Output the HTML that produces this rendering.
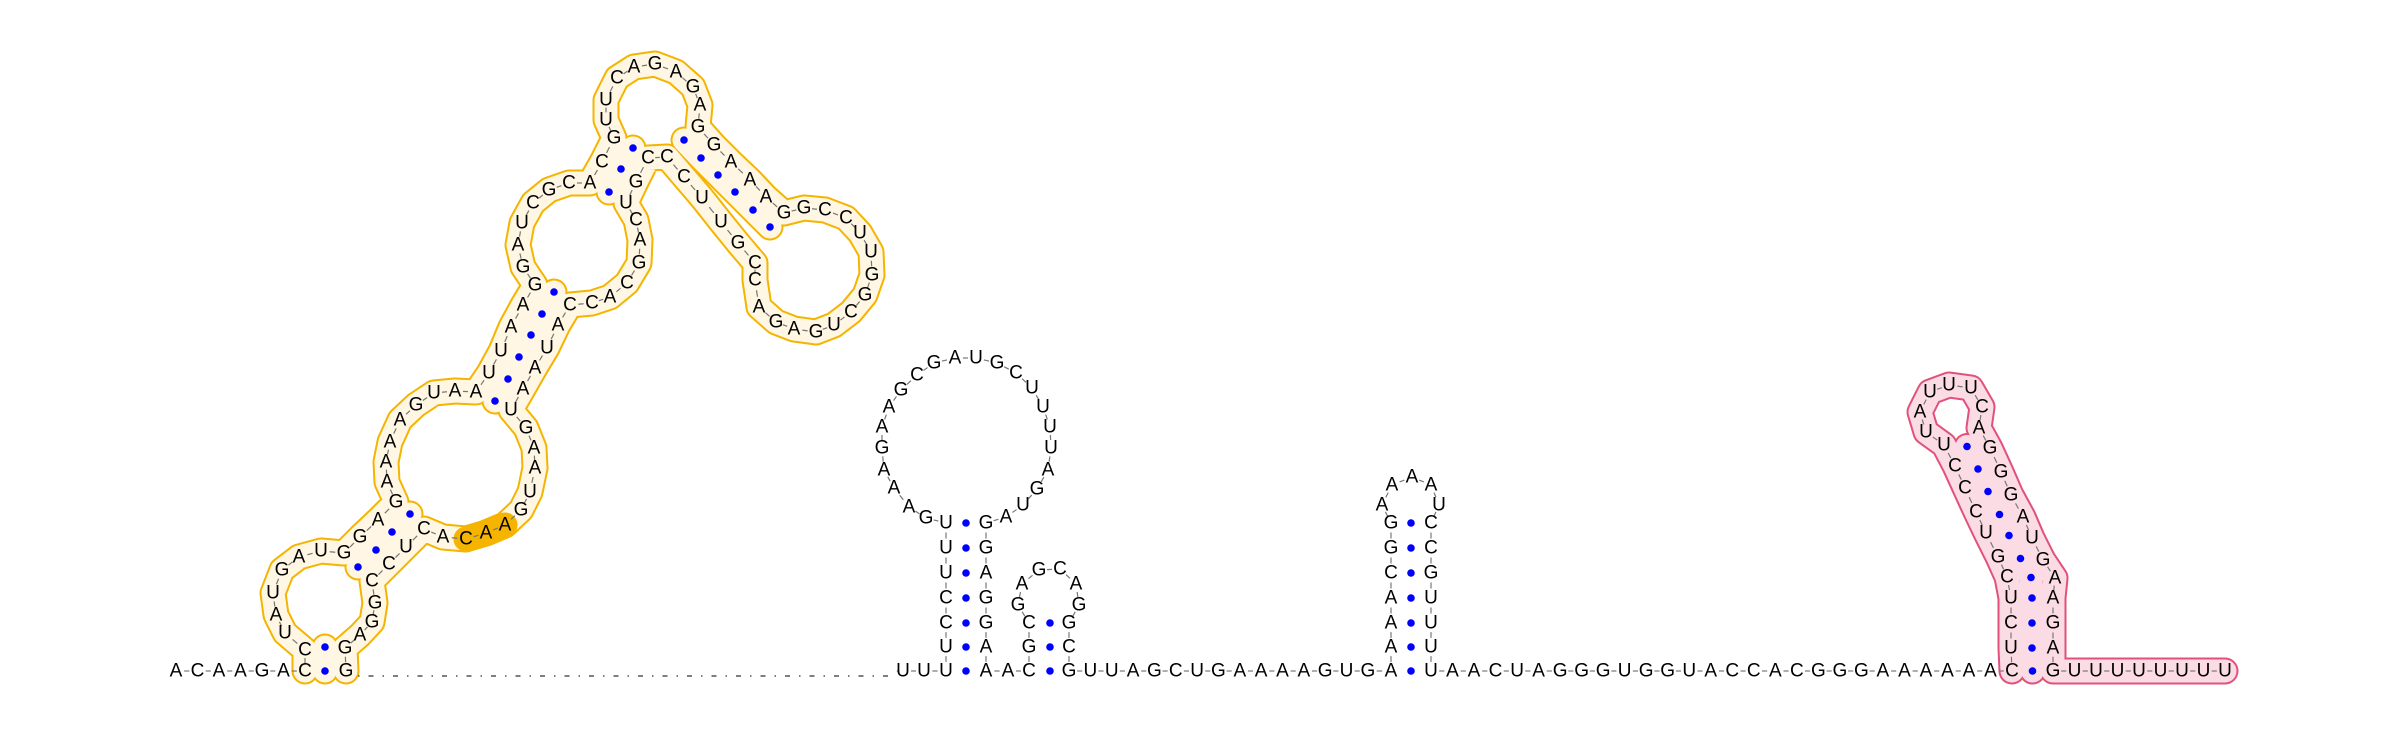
<!DOCTYPE html>
<html><head><meta charset="utf-8">
<style>
html,body{margin:0;padding:0;background:#fff;}
svg{display:block;}
text{font-family:"Liberation Sans","DejaVu Sans",sans-serif;font-size:19px;fill:#000;}
</style></head>
<body>
<svg id="rna" width="2400" height="733" viewBox="0 0 2400 733" xmlns="http://www.w3.org/2000/svg">
<g id="tubes"></g>
<g id="gap">
<line x1="358" y1="676" x2="893" y2="676" stroke="#555" stroke-width="1.6" stroke-dasharray="1.5 9 5 9"/>
</g>
<g id="seps"></g>
<g id="dots"></g>
<g id="nts"></g>
</svg>
<script>
const NS="http://www.w3.org/2000/svg";
function P(s){return s.trim().split(/\s*;\s*/).filter(Boolean).map(t=>{const a=t.trim().split(/\s+/);return [a[0],+a[1],+a[2]];});}
function D(s){return s.trim().split(/\s*;\s*/).filter(Boolean).map(t=>{const a=t.trim().split(/\s+/);return [+a[0],+a[1]];});}
function row(seq,x0,step,y){return seq.split('').map((c,i)=>[c,x0+i*step,y]);}

const yellowChain=P(`C 305 671;C 305 650;U 285 633;A 276 615;U 273 593;G 282 570;A 299 557;U 321 551;G 344 553;G 360 537;A 378 520;G 396 502;A 387 482;A 386 462;A 390 442;A 400 420;G 416 405;U 434 393;A 455 391;A 476 392;U 489 373;U 501 351;A 511 327;A 523 305;G 535 285;G 523 267;A 518 245;U 522 223;C 533 203;G 549 190;C 569 183;A 590 183;C 602 162;G 614 138;U 606 120;U 606 100;C 617 78;A 634 67;G 655 64;A 676 72;G 693 87;A 700 105;G 698 127;G 714 145;A 731 162;A 750 180;A 766 197;G 784 213;G 804 208;C 825 210;C 846 218;U 860 233;U 871 252;G 872 275;G 865 295;C 851 312;U 834 325;G 816 332;A 794 329;G 776 322;A 759 307;C 755 280;C 755 263;G 738 243;U 721 222;U 702 198;C 684 177;C 667 157;C 648 158;G 636 182;U 626 203;C 636 220;A 640 240;G 639 263;C 627 283;A 610 297;C 592 303;C 570 305;A 558 325;U 547 348;A 535 368;A 523 389;U 511 410;G 526 428;A 534 448;A 535 468;U 530 492;G 521 510;A 505 525;A 486 533;C 466 539;A 443 537;C 424 529;U 406 547;C 389 564;C 372 581;G 375 603;G 372 622;A 360 635;G 345 648;G 346 671`);
const yellowHelices=[D(`325 647;325 671`),D(`358 567;376 550;392 532;410 514`),D(`495 401;508 379;519 357;531 335;542 314;554 292`),D(`609 192;621 169;633 148`),D(`684 140;701 158;718 175;735 192;753 210;770 227`)];
const highlight=P(`C 466 539;A 486 533;A 505 525`);

const pinkChain=P(`C 2012 671;U 2011 648;C 2011 623;U 2011 598;C 2007 577;G 1998 557;U 1986 533;C 1976 512;C 1965 488;C 1955 466;U 1944 445;U 1926 432;A 1920 412;U 1930 392;U 1949 385;U 1971 388;C 1982 407;A 1979 428;G 1990 448;G 2001 472;G 2011 495;A 2023 517;U 2032 538;G 2043 560;A 2055 578;A 2053 598;G 2053 623;A 2053 648;G 2053 671`).concat(row("UUUUUUUU",2074.5,21.5,671));
const pinkPairCount=11;

const tail5=row("ACAAGA",176,21.5,671);
const stem1=P(`U 903 671;U 924 671;U 946 671;U 946 647;C 946 623;C 946 598;U 946 573;U 946 548;U 946 523;G 926 518;A 909 507;A 894 488;A 884 470;G 882 448;A 882 427;A 889 407;G 901 390;C 917 375;G 934 363;A 955 358;U 976 358;G 997 363;C 1016 373;U 1032 388;U 1043 407;U 1050 427;U 1051 448;A 1048 470;G 1037 489;U 1023 505;A 1006 517;G 986 523;G 986 548;A 986 573;G 986 598;G 986 623;A 986 647;A 986 671;A 1008 671;C 1029 671`);
const stem2=P(`C 1029 671;G 1029 647;C 1029 623;G 1018 605;A 1022 584;G 1039 570;C 1060 569;A 1076 584;G 1079 605;G 1069 623;C 1069 647;G 1069 671`).concat(row("UUAGCUGAAAAGUG",1090.35,21.35,671));
const stem3=P(`A 1391 671;A 1391 647;A 1391 623;A 1391 598;C 1391 573;G 1391 548;G 1391 523;A 1382 505;A 1392 485;A 1412 477;A 1431 485;U 1439 505;C 1431 523;C 1431 548;G 1431 573;U 1431 598;U 1431 623;U 1431 647;U 1431 671`).concat(row("AACUAGGGUGGUACCACGGGAAAAAA",1452.5,21.52,671));
const plainDots=D(`966 671;966 647;966 623;966 598;966 573;966 548;966 523;1050 671;1050 647;1050 623;1411 671;1411 647;1411 623;1411 598;1411 573;1411 548;1411 523`);

const pinkHelix=[];
for(let i=0;i<pinkPairCount;i++){const a=pinkChain[i],b=pinkChain[28-i];pinkHelix.push([(a[1]+b[1])/2,(a[2]+b[2])/2]);}

const tubes=document.getElementById('tubes'),seps=document.getElementById('seps'),dots=document.getElementById('dots'),nts=document.getElementById('nts');
function pathD(pts){return pts.map((p,i)=>(i?'L':'M')+(p.length===3?p[1]+' '+p[2]:p[0]+' '+p[1])).join(' ');}
function tube(parts,border,fill,name){
  [[border,27],[fill,23]].forEach(([col,w],k)=>{
    parts.forEach(pts=>{
      const p=document.createElementNS(NS,'path');
      
      
      p.setAttribute('d',pathD(pts));p.setAttribute('fill','none');p.setAttribute('stroke',col);
      p.setAttribute('stroke-width',w);p.setAttribute('stroke-linejoin','round');p.setAttribute('stroke-linecap','round');
      tubes.appendChild(p);
    });
  });
}
tube([yellowChain].concat(yellowHelices),'#f5b400','#fff7e3','yellow-domain');
tube([pinkChain,pinkHelix],'#e2507c','#fbdce4','pink-domain');
{const p=document.createElementNS(NS,'path');


p.setAttribute('d',pathD(highlight));p.setAttribute('fill','none');p.setAttribute('stroke','#f5b400');p.setAttribute('stroke-width','25');p.setAttribute('stroke-linecap','round');p.setAttribute('stroke-linejoin','round');tubes.appendChild(p);}

function chainSeps(ch){
  for(let i=0;i<ch.length-1;i++){
    const a=ch[i],b=ch[i+1];
    const l=document.createElementNS(NS,'line');
    
    
    l.setAttribute('x1',a[1]+(b[1]-a[1])*0.38);l.setAttribute('y1',a[2]+(b[2]-a[2])*0.38);
    l.setAttribute('x2',a[1]+(b[1]-a[1])*0.62);l.setAttribute('y2',a[2]+(b[2]-a[2])*0.62);
    l.setAttribute('stroke','#777');l.setAttribute('stroke-width','1.2');
    seps.appendChild(l);
  }
}
function letters(ch){
  ch.forEach(n=>{
    const t=document.createElementNS(NS,'text');
    
    
    t.setAttribute('x',n[1]);t.setAttribute('y',n[2]);t.setAttribute('text-anchor','middle');t.setAttribute('dominant-baseline','central');
    t.textContent=n[0];nts.appendChild(t);
  });
}
const tailWithC=tail5.concat([yellowChain[0]]);
chainSeps(tailWithC);chainSeps(yellowChain);chainSeps(stem1);chainSeps(stem2);
chainSeps([stem2[stem2.length-1],stem3[0]]);
chainSeps(stem3);
chainSeps([stem3[stem3.length-1],pinkChain[0]]);chainSeps(pinkChain);
chainSeps([["",893,671],stem1[0]]);
letters(tail5);letters(yellowChain);letters(stem1);
letters(stem2.slice(1));
letters(stem3);letters(pinkChain);
function dot(x,y){const c=document.createElementNS(NS,'circle');


c.setAttribute('cx',x);c.setAttribute('cy',y);c.setAttribute('r','3.8');c.setAttribute('fill','#0000ff');dots.appendChild(c);}
yellowHelices.forEach(h=>h.forEach(p=>dot(p[0],p[1])));
pinkHelix.forEach(p=>dot(p[0],p[1]));
plainDots.forEach(p=>dot(p[0],p[1]));
</script>
</body></html>
